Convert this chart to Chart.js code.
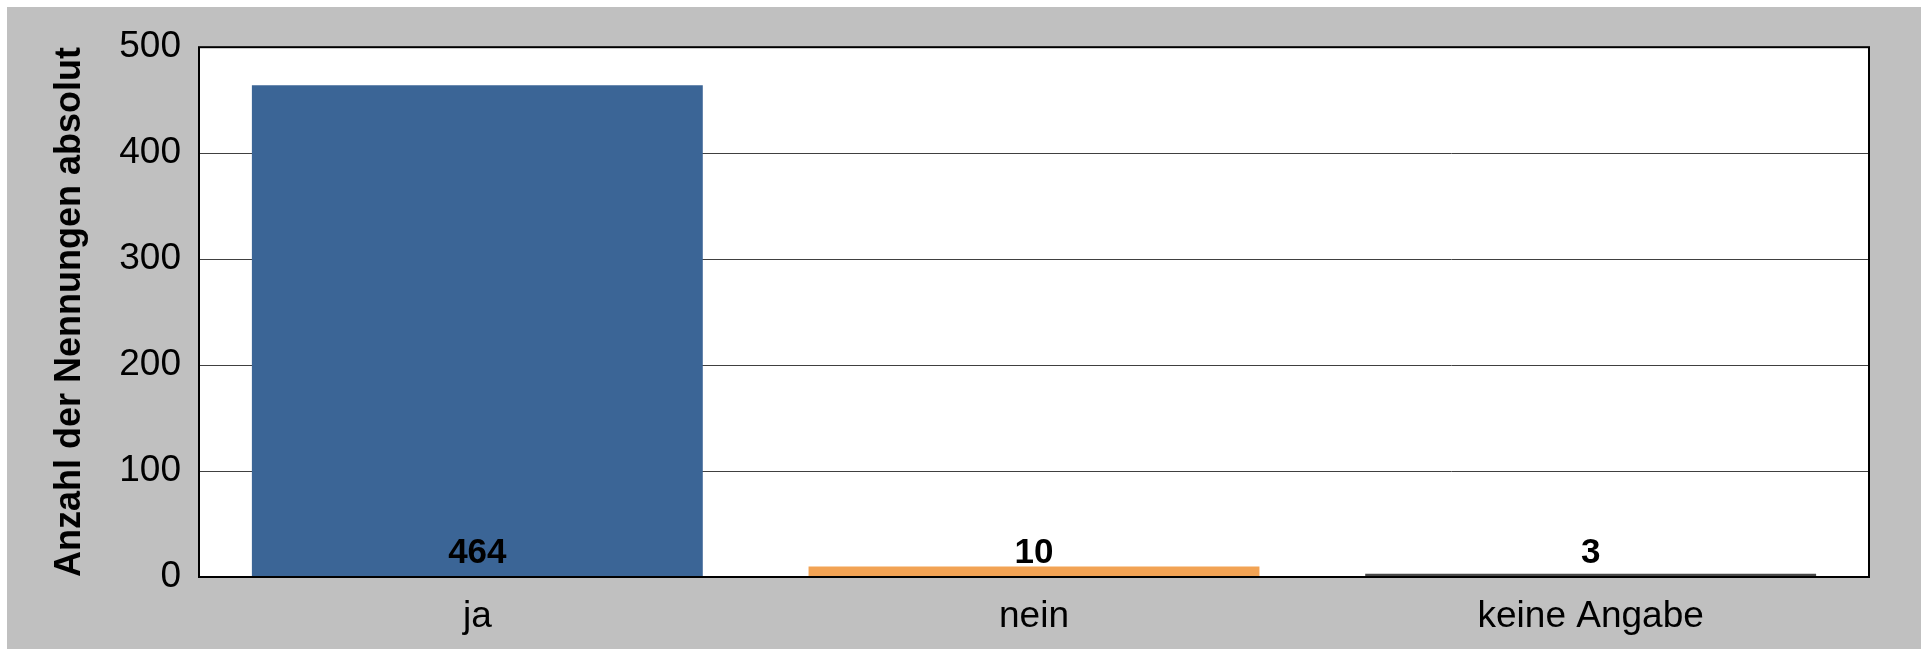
<!DOCTYPE html>
<html>
<head>
<meta charset="utf-8">
<script src="https://cdn.jsdelivr.net/npm/chart.js@4/dist/chart.umd.min.js"></script>
<style>
  html, body { margin: 0; padding: 0; background: #ffffff; }
  #frame {
    position: absolute; left: 7px; top: 7px;
    width: 1914px; height: 642px;
    background: #c0c0c0;
  }
</style>
</head>
<body>
<div id="frame"><canvas id="chart" width="1914" height="642"></canvas></div>
<script>
// data
const categories = ["ja", "nein", "keine Angabe"];
const counts = [464, 10, 3];
const barColors = ["#3b6596", "#f2a354", "#484848"];
const yTicks = [0, 100, 200, 300, 400, 500];

// value labels sit at a fixed height just above the baseline
const valueLabels = {
    id: "valueLabels",
    afterDatasetsDraw(chart) {
        const ctx = chart.ctx;
        const meta = chart.getDatasetMeta(0);
        const y0 = chart.scales.y.getPixelForValue(0);
        ctx.save();
        ctx.font = "bold 35px 'Liberation Sans', Arial, sans-serif";
        ctx.fillStyle = "#000";
        ctx.textAlign = "center";
        ctx.textBaseline = "middle";
        meta.data.forEach((bar, i) => {
            ctx.fillText(String(counts[i]), bar.x, y0 - 24);
        });
        ctx.restore();
    }
};

// plot frame
const plotFrame = {
    id: "plotFrame",
    beforeDraw(chart) {
        const a = chart.chartArea;
        const ctx = chart.ctx;
        ctx.save();
        ctx.fillStyle = "#ffffff";
        ctx.fillRect(a.left, a.top, a.right - a.left, a.bottom - a.top);
        ctx.restore();
    },
    afterDraw(chart) {
        const a = chart.chartArea;
        const ctx = chart.ctx;
        ctx.save();
        ctx.strokeStyle = "#000";
        ctx.lineWidth = 2;
        ctx.strokeRect(a.left, a.top, a.right - a.left, a.bottom - a.top);
        ctx.restore();
    }
};

new Chart(document.getElementById("chart"), {
    type: "bar",
    data: {
        labels: categories,
        datasets: [{
            data: counts,
            backgroundColor: barColors,
            borderWidth: 0,
            categoryPercentage: 1,
            barPercentage: 0.81
        }]
    },
    options: {
        responsive: false,
        animation: false,
        events: [],
        layout: { padding: { left: 0, top: 38, right: 52, bottom: 0 } },
        plugins: {
            legend: { display: false },
            tooltip: { enabled: false }
        },
        scales: {
            x: {
                grid: { display: false, drawTicks: false },
                border: { display: false },
                ticks: {
                    color: "#000",
                    padding: 18,
                    font: { family: "'Liberation Sans', Arial, sans-serif", size: 37 }
                },
                afterFit: s => { s.height = 72; }
            },
            y: {
                min: 0,
                max: 500,
                afterBuildTicks: s => { s.ticks = yTicks.map(v => ({ value: v })); },
                grid: { color: "#404040", lineWidth: 1, drawTicks: false },
                border: { display: false },
                ticks: {
                    color: "#000",
                    padding: 18,
                    font: { family: "'Liberation Sans', Arial, sans-serif", size: 37 }
                },
                title: {
                    display: true,
                    text: "Anzahl der Nennungen absolut",
                    color: "#000",
                    padding: { top: 41, bottom: 0 },
                    font: { family: "'Liberation Sans', Arial, sans-serif", size: 36, weight: "bold" }
                },
                afterFit: s => { s.width = 192; }
            }
        }
    },
    plugins: [plotFrame, valueLabels]
});
</script>
</body>
</html>
